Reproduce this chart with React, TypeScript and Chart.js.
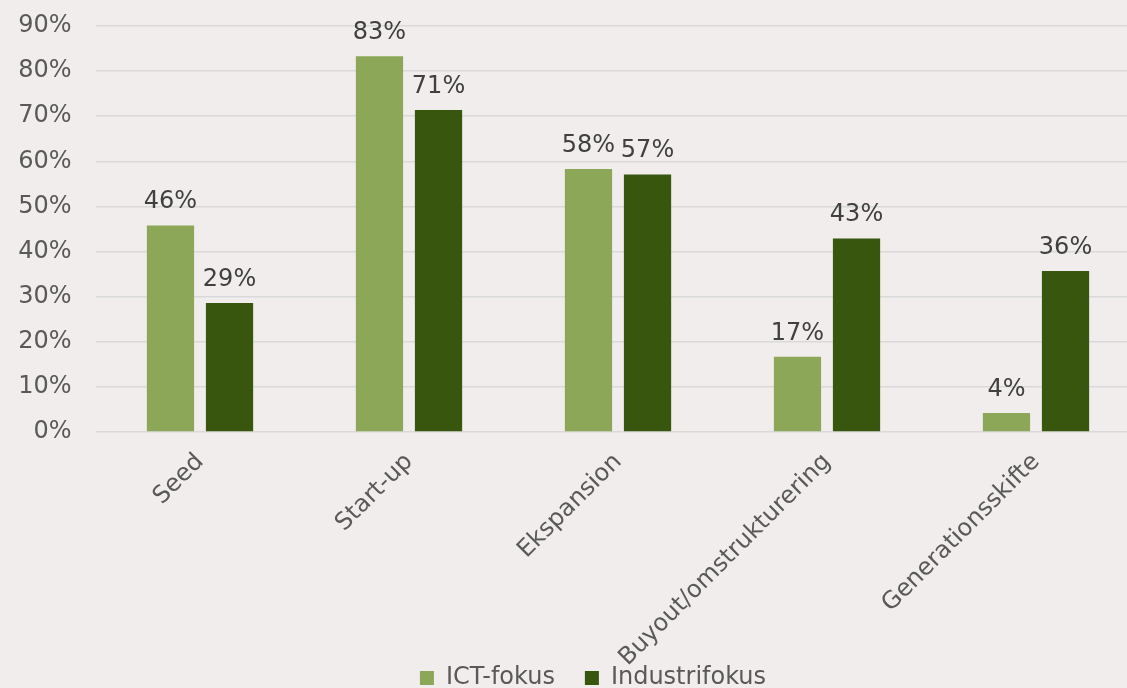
import React, { useEffect, useRef } from "react";
import { Chart, registerables } from "chart.js";

Chart.register(...registerables);

const categories = ["Seed", "Start-up", "Ekspansion", "Buyout/omstrukturering", "Generationsskifte"];
const ictValues = [45.8, 83.3, 58.3, 16.7, 4.2];
const industriValues = [28.6, 71.4, 57.1, 42.9, 35.7];
const seriesNames = ["ICT-fokus", "Industrifokus"];
const yTicks = [0, 10, 20, 30, 40, 50, 60, 70, 80, 90];

const FONT = "'DejaVu Sans', Verdana, sans-serif";
const BG = "#F0EDEC";

const valueLabels = {
  id: "valueLabels",
  afterDatasetsDraw(chart: any) {
    const ctx = chart.ctx;
    ctx.save();
    ctx.font = `24px ${FONT}`;
    ctx.fillStyle = "#404040";
    ctx.textAlign = "center";
    ctx.textBaseline = "alphabetic";
    chart.data.datasets.forEach((ds: any, i: number) => {
      const meta = chart.getDatasetMeta(i);
      meta.data.forEach((bar: any, j: number) => {
        ctx.fillText(Math.round(ds.data[j]) + "%", bar.x, bar.y - 17);
      });
    });
    ctx.restore();
  },
};

export default function App() {
  const ref = useRef<HTMLCanvasElement>(null);
  useEffect(() => {
    document.body.style.overflow = "hidden";
    document.body.style.background = BG;
    const chart = new Chart(ref.current!, {
      type: "bar",
      data: {
        labels: categories,
        datasets: [
          { label: seriesNames[0], data: ictValues, backgroundColor: "#8BA757", barPercentage: 0.8, categoryPercentage: 0.565 },
          { label: seriesNames[1], data: industriValues, backgroundColor: "#38560E", barPercentage: 0.8, categoryPercentage: 0.565 },
        ],
      },
      options: {
        animation: false,
        responsive: false,
        layout: { padding: { top: 26, left: 0, right: 0, bottom: 0 } },
        plugins: {
          tooltip: { enabled: false },
          legend: {
            position: "bottom",
            labels: {
              font: { family: FONT, size: 24 },
              color: "#595959",
              boxWidth: 14,
              boxHeight: 14,
              padding: 30,
            },
          },
        },
        scales: {
          x: {
            grid: { display: false },
            border: { display: false },
            ticks: {
              minRotation: 45,
              maxRotation: 45,
              autoSkip: false,
              font: { family: FONT, size: 24 },
              color: "#595959",
              padding: 8,
            },
            afterFit: (s: any) => { s.height = 204; s.paddingTop = 0; s.paddingBottom = 0; },
            afterUpdate: (s: any) => { s._computeLabelArea = () => undefined; },
          },
          y: {
            min: 0,
            max: 90,
            afterBuildTicks: (s: any) => { s.ticks = yTicks.map((v) => ({ value: v })); },
            grid: { color: "#D9D9D9", lineWidth: 1.5, drawTicks: false },
            border: { display: false },
            ticks: {
              callback: (v: any) => v + "%",
              font: { family: FONT, size: 24 },
              color: "#595959",
              padding: 24,
            },
            afterFit: (s: any) => { s.width = 95.5; s.paddingTop = 0; s.paddingBottom = 0; },
          },
          y2: {
            position: "right",
            display: true,
            grid: { display: false },
            border: { display: false },
            ticks: { display: false },
            afterFit: (s: any) => { s.width = 45.5; s.paddingTop = 0; s.paddingBottom = 0; },
          },
        },
      },
      plugins: [valueLabels],
    });
    return () => chart.destroy();
  }, []);
  return (
    <div style={{ position: "fixed", left: 0, top: 0, width: 1186, height: 700, background: BG }}>
      <canvas ref={ref} width={1186} height={700} style={{ width: 1186, height: 700 }} />
    </div>
  );
}
